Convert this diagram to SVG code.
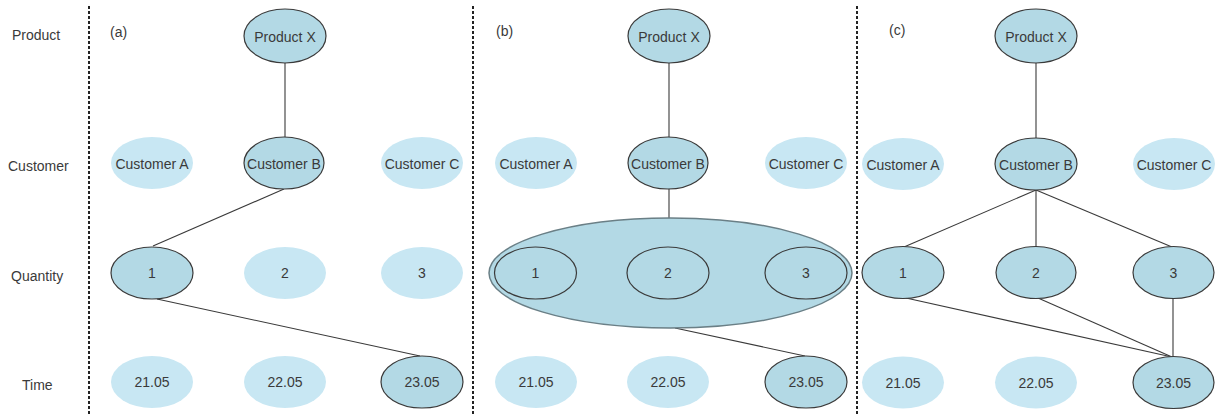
<svg xmlns="http://www.w3.org/2000/svg" width="1219" height="416" viewBox="0 0 1219 416">
<style>
.hi{fill:#b3d9e5;stroke:#3a3a3a;stroke-width:1.2}
.lo{fill:#c8e7f3;stroke:none}
.in{fill:none;stroke:#3a3a3a;stroke-width:1.2}
.big{fill:#b3d9e5;stroke:#6a7f86;stroke-width:1.5}
text{font-family:"Liberation Sans",Arial,sans-serif;font-size:14px;fill:#3a3a3a;text-anchor:middle;dominant-baseline:central}
.lbl{text-anchor:start}
.sep{stroke:#222;stroke-width:2;stroke-dasharray:3 2}
.edge{stroke:#3a3a3a;stroke-width:1.1;fill:none}
</style>
<rect width="1219" height="416" fill="#fff"/>
<g id="separators">
<line class="sep" x1="89" y1="6" x2="89" y2="416"/>
<line class="sep" x1="473" y1="6" x2="473" y2="416"/>
<line class="sep" x1="857" y1="6" x2="857" y2="416"/>
</g>
<g id="row-labels">
<text class="lbl" x="12" y="35">Product</text>
<text class="lbl" x="8" y="166">Customer</text>
<text class="lbl" x="11" y="276">Quantity</text>
<text class="lbl" x="22" y="385">Time</text>
<text class="lbl" x="110" y="32">(a)</text>
<text class="lbl" x="496" y="31">(b)</text>
<text class="lbl" x="889" y="30">(c)</text>
</g>
<g id="connectors">
<line class="edge" x1="285" y1="63" x2="285" y2="137"/>
<line class="edge" x1="284" y1="189" x2="153" y2="246"/>
<line class="edge" x1="157" y1="299" x2="420" y2="356"/>
<line class="edge" x1="669" y1="63" x2="669" y2="137"/>
<line class="edge" x1="669" y1="189" x2="669" y2="218"/>
<line class="edge" x1="675" y1="328" x2="805" y2="356"/>
<line class="edge" x1="1036" y1="63" x2="1036" y2="138"/>
<line class="edge" x1="1036" y1="190" x2="904" y2="247"/>
<line class="edge" x1="1036" y1="190" x2="1036" y2="247"/>
<line class="edge" x1="1036" y1="190" x2="1172" y2="247"/>
<line class="edge" x1="906" y1="298" x2="1172" y2="357"/>
<line class="edge" x1="1038" y1="298" x2="1172" y2="357"/>
<line class="edge" x1="1173" y1="298" x2="1173" y2="357"/>
</g>
<g id="a-product"><ellipse class="hi" cx="285" cy="36" rx="41" ry="27"/><text x="285" y="37">Product X</text></g>
<g id="a-custA"><ellipse class="lo" cx="152" cy="163" rx="41" ry="26"/><text x="152" y="164">Customer A</text></g>
<g id="a-custB"><ellipse class="hi" cx="284" cy="163" rx="40" ry="26"/><text x="284" y="164">Customer B</text></g>
<g id="a-custC"><ellipse class="lo" cx="422" cy="163" rx="41" ry="26"/><text x="422" y="164">Customer C</text></g>
<g id="a-q1"><ellipse class="hi" cx="152" cy="273" rx="41" ry="26"/><text x="152" y="273">1</text></g>
<g id="a-q2"><ellipse class="lo" cx="285" cy="273" rx="41" ry="26"/><text x="285" y="273">2</text></g>
<g id="a-q3"><ellipse class="lo" cx="422" cy="273" rx="41" ry="26"/><text x="422" y="273">3</text></g>
<g id="a-t1"><ellipse class="lo" cx="152" cy="382" rx="41" ry="26"/><text x="152" y="382">21.05</text></g>
<g id="a-t2"><ellipse class="lo" cx="285" cy="382" rx="41" ry="26"/><text x="285" y="382">22.05</text></g>
<g id="a-t3"><ellipse class="hi" cx="422" cy="382" rx="41" ry="26"/><text x="422" y="382">23.05</text></g>

<g id="b-product"><ellipse class="hi" cx="669" cy="36" rx="41" ry="27"/><text x="669" y="37">Product X</text></g>
<g id="b-custA"><ellipse class="lo" cx="536" cy="163" rx="41" ry="26"/><text x="536" y="164">Customer A</text></g>
<g id="b-custB"><ellipse class="hi" cx="668" cy="163" rx="40" ry="26"/><text x="668" y="164">Customer B</text></g>
<g id="b-custC"><ellipse class="lo" cx="806" cy="163" rx="41" ry="26"/><text x="806" y="164">Customer C</text></g>
<g id="b-group"><ellipse class="big" cx="670.5" cy="273" rx="181.5" ry="55"/></g>
<g id="b-q1"><ellipse class="in" cx="535.5" cy="273" rx="41" ry="26"/><text x="535.5" y="273">1</text></g>
<g id="b-q2"><ellipse class="in" cx="668" cy="273" rx="41" ry="26"/><text x="668" y="273">2</text></g>
<g id="b-q3"><ellipse class="in" cx="806" cy="273" rx="41" ry="26"/><text x="806" y="273">3</text></g>
<g id="b-t1"><ellipse class="lo" cx="536" cy="382" rx="41" ry="26"/><text x="536" y="382">21.05</text></g>
<g id="b-t2"><ellipse class="lo" cx="668" cy="382" rx="41" ry="26"/><text x="668" y="382">22.05</text></g>
<g id="b-t3"><ellipse class="hi" cx="806" cy="382" rx="41" ry="26"/><text x="806" y="382">23.05</text></g>

<g id="c-product"><ellipse class="hi" cx="1036" cy="36" rx="41" ry="27"/><text x="1036" y="37">Product X</text></g>
<g id="c-custA"><ellipse class="lo" cx="903" cy="164" rx="41" ry="26"/><text x="903" y="165">Customer A</text></g>
<g id="c-custB"><ellipse class="hi" cx="1036" cy="164" rx="41" ry="26"/><text x="1036" y="165">Customer B</text></g>
<g id="c-custC"><ellipse class="lo" cx="1174" cy="164" rx="41" ry="26"/><text x="1174" y="165">Customer C</text></g>
<g id="c-q1"><ellipse class="hi" cx="903" cy="272.5" rx="41" ry="26"/><text x="903" y="273">1</text></g>
<g id="c-q2"><ellipse class="hi" cx="1036" cy="272.5" rx="40" ry="26"/><text x="1036" y="273">2</text></g>
<g id="c-q3"><ellipse class="hi" cx="1173.5" cy="272.5" rx="40.5" ry="26"/><text x="1173.5" y="273">3</text></g>
<g id="c-t1"><ellipse class="lo" cx="903" cy="382.5" rx="41" ry="26"/><text x="903" y="383">21.05</text></g>
<g id="c-t2"><ellipse class="lo" cx="1036" cy="382.5" rx="41" ry="26"/><text x="1036" y="383">22.05</text></g>
<g id="c-t3"><ellipse class="hi" cx="1173.5" cy="382.5" rx="40.5" ry="26"/><text x="1173.5" y="383">23.05</text></g>
</svg>
